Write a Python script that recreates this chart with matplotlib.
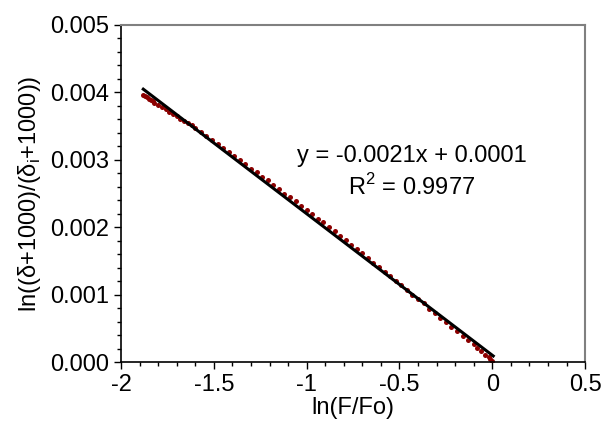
import matplotlib.pyplot as plt
from matplotlib.ticker import MultipleLocator, FormatStrFormatter

plt.rcParams['font.family'] = ['Liberation Sans', 'DejaVu Sans']

# measured points
ln_f = [-1.88, -1.87, -1.86, -1.85, -1.84, -1.83, -1.82, -1.80, -1.78, -1.76,
        -1.74, -1.72, -1.70, -1.68, -1.66, -1.64, -1.62, -1.60, -1.57, -1.54,
        -1.51, -1.48, -1.45, -1.42, -1.39, -1.36, -1.33, -1.30, -1.27, -1.24,
        -1.21, -1.18, -1.15, -1.12, -1.09, -1.06, -1.03, -1.00, -0.97, -0.94,
        -0.91, -0.88, -0.85, -0.82, -0.79, -0.76, -0.73, -0.70, -0.67, -0.64,
        -0.61, -0.58, -0.55, -0.52, -0.49, -0.46, -0.43, -0.40, -0.37, -0.34,
        -0.31, -0.28, -0.25, -0.22, -0.19, -0.16, -0.13, -0.10, -0.08, -0.06,
        -0.04, -0.02, -0.01, 0.00]
ln_ratio = [0.00396, 0.00394, 0.00393, 0.00390, 0.00389, 0.00387, 0.00385, 0.00382, 0.00379, 0.00376,
            0.00371, 0.00368, 0.00365, 0.00361, 0.00358, 0.00354, 0.00351, 0.00347, 0.00341, 0.00335,
            0.00329, 0.00324, 0.00318, 0.00312, 0.00305, 0.00300, 0.00294, 0.00287, 0.00282, 0.00275,
            0.00270, 0.00263, 0.00257, 0.00250, 0.00245, 0.00239, 0.00231, 0.00226, 0.00220, 0.00212,
            0.00207, 0.00200, 0.00195, 0.00187, 0.00181, 0.00174, 0.00168, 0.00161, 0.00155, 0.00147,
            0.00141, 0.00134, 0.00128, 0.00120, 0.00114, 0.00107, 0.00100, 0.00093, 0.00087, 0.00079,
            0.00073, 0.00066, 0.00059, 0.00052, 0.00046, 0.00039, 0.00032, 0.00026, 0.00021, 0.00017,
            0.00011, 0.00007, 0.00004, 0.00002]

# linear fit as printed on the chart
slope = -0.0021
intercept = 0.0001
fit_x = [-1.88, 0.005]

fig = plt.figure(figsize=(6.02, 4.37), dpi=100)
ax = fig.add_axes([0.201, 0.1716, 0.771, 0.7712])

ax.plot(fit_x, [slope * x + intercept for x in fit_x], color='black', lw=2.2, zorder=3)
ax.plot(ln_f, ln_ratio, 'o', color='#8b0000', ms=3.6, mew=0, zorder=2)

ax.set_xlim(-2, 0.5)
ax.set_ylim(0, 0.005)
ax.xaxis.set_major_locator(MultipleLocator(0.5))
ax.xaxis.set_minor_locator(MultipleLocator(0.1))
ax.yaxis.set_major_locator(MultipleLocator(0.001))
ax.yaxis.set_minor_locator(MultipleLocator(0.0002))
ax.yaxis.set_major_formatter(FormatStrFormatter('%.3f'))
ax.xaxis.set_major_formatter(lambda v, p: '%g' % v)

ax.tick_params(which='major', direction='out', length=5, width=1, labelsize=17, colors='black')
ax.tick_params(which='minor', direction='out', length=3, width=1)
for s in ['top', 'right']:
    ax.spines[s].set_color('#808080')
    ax.spines[s].set_linewidth(1.5)
for s in ['left', 'bottom']:
    ax.spines[s].set_linewidth(1.2)

ax.set_xlabel('ln(F/Fo)', fontsize=17, labelpad=1)
ax.set_ylabel('ln((δ+1000)/(δ$_\\mathregular{i}$+1000))', fontsize=17, labelpad=5)

ax.text(0.626, 0.61, 'y = -0.0021x + 0.0001', transform=ax.transAxes,
        ha='center', va='center', fontsize=17)
ax.text(0.626, 0.52, 'R$^\\mathregular{2}$ = 0.9977', transform=ax.transAxes,
        ha='center', va='center', fontsize=17)

fig.savefig('out.png', dpi=100)
